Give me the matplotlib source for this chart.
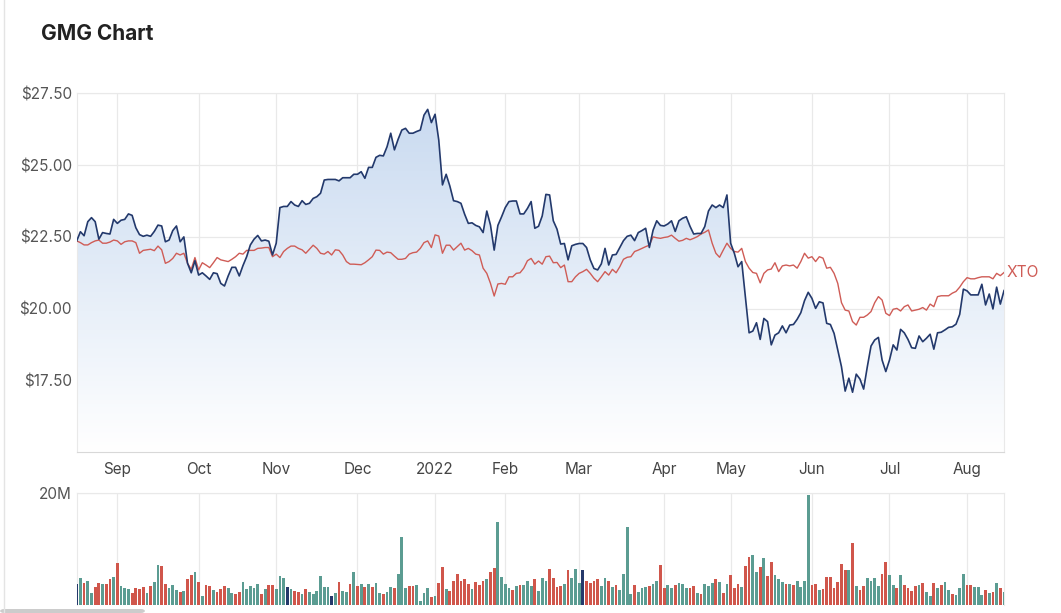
import numpy as np
import pandas as pd
import matplotlib.pyplot as plt
from matplotlib.patches import FancyBboxPatch

plt.rcParams["font.family"] = ["Inter", "DejaVu Sans"]

# ASX trading calendar covered by the chart
start_date = "2021-08-17"
end_date = "2022-08-15"
holidays = ["2021-12-27", "2021-12-28", "2022-01-03", "2022-01-26",
            "2022-04-15", "2022-04-18", "2022-04-25", "2022-06-13"]
month_labels = ["Sep", "Oct", "Nov", "Dec", "2022", "Feb", "Mar", "Apr",
                "May", "Jun", "Jul", "Aug"]

gmg = [
    22.36, 22.68, 22.54, 23.03, 23.17, 23.03, 22.42, 22.65, 22.62, 22.60,
    23.11, 22.97, 23.08, 23.11, 23.30, 23.25, 22.82, 22.58, 22.52, 22.56,
    22.52, 22.69, 22.91, 22.88, 22.33, 22.39, 22.72, 22.88, 22.33, 22.50,
    21.58, 21.25, 21.67, 21.17, 21.25, 21.14, 21.02, 21.25, 21.22, 20.88,
    20.79, 21.14, 21.44, 21.44, 21.14, 21.50, 21.81, 22.22, 22.42, 22.55,
    22.36, 22.39, 22.35, 21.87, 22.28, 23.52, 23.56, 23.56, 23.73, 23.61,
    23.56, 23.76, 23.63, 23.67, 23.84, 23.90, 24.02, 24.48, 24.50, 24.50,
    24.50, 24.45, 24.56, 24.56, 24.56, 24.68, 24.68, 24.77, 24.54, 24.92,
    24.92, 25.27, 25.34, 25.32, 25.64, 26.11, 25.53, 25.90, 26.22, 26.28,
    26.11, 26.11, 26.17, 26.22, 26.74, 26.94, 26.48, 26.77, 25.87, 24.31,
    24.68, 24.27, 23.76, 23.73, 23.67, 23.29, 22.97, 22.99, 22.90, 22.85,
    22.65, 23.40, 22.91, 22.04, 22.90, 23.20, 23.52, 23.73, 23.75, 23.75,
    23.30, 23.30, 23.49, 23.73, 22.80, 22.87, 23.23, 23.98, 23.96, 23.06,
    22.77, 22.25, 22.27, 21.70, 22.19, 22.24, 22.27, 22.27, 22.13, 21.70,
    21.40, 21.35, 21.56, 22.10, 21.52, 21.87, 21.89, 22.13, 22.37, 22.52,
    22.56, 22.37, 22.65, 22.72, 22.80, 22.13, 22.73, 23.06, 22.90, 22.88,
    22.95, 23.06, 22.69, 23.06, 23.15, 23.20, 22.87, 22.60, 22.62, 22.62,
    22.86, 23.40, 23.61, 23.52, 23.61, 23.52, 23.96, 22.28, 21.93, 21.46,
    21.64, 20.40, 19.16, 19.22, 19.51, 18.93, 19.66, 19.55, 18.74, 19.08,
    19.16, 19.40, 19.16, 19.43, 19.45, 19.63, 19.86, 20.28, 20.57, 20.36,
    20.01, 20.24, 20.20, 19.49, 19.45, 19.14, 18.56, 17.98, 17.13, 17.58,
    17.09, 17.72, 17.55, 17.20, 17.98, 18.70, 18.91, 19.00, 18.21, 17.81,
    18.21, 18.74, 18.56, 19.28, 19.16, 18.93, 18.64, 18.62, 19.05, 18.85,
    18.97, 19.11, 18.59, 19.16, 19.18, 19.26, 19.35, 19.37, 19.46, 19.80,
    20.68, 20.62, 20.48, 20.48, 20.48, 20.85, 20.13, 20.51, 19.99, 20.75,
    20.16, 20.63,
]

xto = [
    22.36, 22.30, 22.22, 22.22, 22.30, 22.36, 22.39, 22.28, 22.28, 22.32,
    22.39, 22.36, 22.24, 22.33, 22.36, 22.36, 22.30, 21.93, 22.03, 22.05,
    22.07, 22.02, 22.18, 22.05, 21.58, 21.64, 21.75, 21.93, 21.87, 21.93,
    21.58, 21.37, 21.78, 21.35, 21.60, 21.52, 21.43, 21.60, 21.78, 21.70,
    21.67, 21.64, 21.72, 21.81, 21.93, 21.90, 22.03, 22.03, 22.03, 22.10,
    22.11, 22.13, 22.13, 21.81, 21.90, 21.78, 21.99, 22.10, 22.18, 22.18,
    22.10, 22.05, 21.93, 22.07, 22.21, 22.10, 21.93, 21.90, 21.99, 21.87,
    22.05, 22.03, 21.87, 21.64, 21.55, 21.55, 21.54, 21.53, 21.60, 21.70,
    21.81, 22.04, 22.03, 21.90, 21.97, 21.95, 21.83, 21.72, 21.72, 21.75,
    21.90, 21.95, 21.97, 22.10, 22.30, 22.36, 22.13, 22.57, 22.53, 21.93,
    22.21, 22.21, 22.04, 22.16, 22.28, 22.04, 22.10, 22.02, 21.90, 21.87,
    21.41, 21.23, 20.88, 20.44, 20.86, 20.88, 20.85, 21.11, 21.11, 21.23,
    21.25, 21.41, 21.67, 21.75, 21.55, 21.66, 21.55, 21.81, 21.83, 21.60,
    21.61, 21.43, 21.52, 20.94, 20.94, 21.11, 21.23, 21.29, 21.37, 21.23,
    21.06, 20.94, 21.11, 21.29, 21.17, 21.37, 21.25, 21.46, 21.72, 21.79,
    21.81, 21.99, 22.04, 22.10, 22.16, 22.21, 22.50, 22.47, 22.45, 22.48,
    22.50, 22.56, 22.45, 22.35, 22.38, 22.45, 22.40, 22.45, 22.51, 22.60,
    22.66, 22.74, 22.28, 21.93, 21.79, 22.04, 22.28, 22.10, 21.99, 21.97,
    22.10, 21.64, 21.41, 21.26, 21.23, 20.90, 21.23, 21.35, 21.38, 21.60,
    21.29, 21.49, 21.52, 21.49, 21.52, 21.41, 21.64, 21.93, 21.76, 21.81,
    21.64, 21.81, 21.76, 21.41, 21.44, 21.23, 20.88, 20.21, 19.95, 19.92,
    19.55, 19.43, 19.70, 19.70, 19.78, 19.90, 20.21, 20.42, 20.30, 19.84,
    19.76, 19.98, 20.01, 19.92, 20.07, 20.13, 19.92, 19.95, 19.98, 20.04,
    19.95, 20.16, 20.07, 20.42, 20.45, 20.45, 20.45, 20.54, 20.60, 20.75,
    20.94, 21.08, 21.04, 21.04, 21.08, 21.11, 21.11, 21.11, 21.04, 21.23,
    21.15, 21.26,
]

# daily volume, millions of shares
volume = [
    3.75, 4.76, 3.87, 4.35, 2.08, 3.15, 3.87, 3.75, 3.75, 4.58,
    4.94, 7.56, 3.39, 2.98, 2.80, 2.08, 2.98, 2.80, 3.15, 2.08,
    3.39, 4.17, 7.14, 6.96, 3.75, 2.98, 3.57, 2.68, 2.38, 2.56,
    4.58, 5.36, 5.95, 4.17, 1.67, 3.57, 3.39, 2.68, 2.38, 2.80,
    3.39, 2.98, 2.20, 1.96, 2.32, 4.17, 2.80, 3.39, 2.98, 3.75,
    1.96, 2.80, 3.57, 3.57, 2.80, 5.18, 4.76, 3.15, 2.80, 2.56,
    2.32, 1.96, 2.80, 2.38, 1.96, 2.56, 5.18, 3.15, 3.15, 1.67,
    2.08, 4.17, 2.56, 2.38, 3.75, 5.95, 3.39, 3.75, 3.27, 3.75,
    3.27, 3.87, 2.08, 1.96, 2.26, 3.15, 2.98, 5.54, 12.20, 2.98,
    3.45, 3.39, 3.50, 0.71, 2.08, 2.98, 1.50, 1.67, 3.87, 6.73,
    2.80, 2.50, 4.35, 5.54, 4.35, 4.58, 3.75, 2.80, 4.17, 3.57,
    4.35, 4.58, 5.95, 6.55, 14.80, 4.94, 3.75, 2.98, 2.68, 3.39,
    3.57, 3.57, 4.35, 3.39, 4.58, 2.50, 4.76, 4.35, 6.37, 4.76,
    3.15, 3.39, 3.75, 6.25, 4.76, 6.37, 3.87, 6.25, 4.35, 3.87,
    4.35, 4.58, 3.39, 4.76, 4.35, 3.15, 3.57, 2.68, 5.54, 13.90,
    1.90, 3.57, 2.38, 2.98, 3.15, 3.39, 3.75, 4.35, 7.14, 2.98,
    3.57, 2.98, 3.57, 3.87, 3.75, 2.98, 2.98, 3.39, 2.08, 1.90,
    3.75, 3.39, 3.87, 4.58, 4.17, 2.08, 3.75, 5.36, 2.98, 3.75,
    3.15, 6.96, 8.51, 8.93, 5.95, 6.73, 8.33, 5.18, 7.74, 5.36,
    4.58, 4.17, 3.75, 3.75, 3.51, 4.35, 3.15, 4.35, 19.64, 3.51,
    3.75, 2.68, 2.80, 4.94, 4.94, 2.98, 4.17, 7.32, 6.25, 6.25,
    11.01, 3.39, 2.68, 3.39, 4.76, 4.35, 4.76, 3.39, 5.54, 7.74,
    5.36, 3.57, 2.98, 5.36, 3.57, 2.98, 2.56, 3.39, 3.57, 3.87,
    2.32, 1.61, 3.87, 2.98, 3.57, 4.17, 2.68, 1.90, 1.73, 2.98,
    5.54, 3.57, 3.57, 3.15, 3.15, 1.73, 2.68, 2.20, 2.32, 3.87,
    2.98, 2.32,
]

# u = up day, d = down day, n = unchanged (10 days per chunk)
direction = list(
    "nuduuddudd" "uduuuddddu" "duudduuudu" "ddududdudd" "duudduuuuu"
    "dudduuunud" "duduuuuuun" "uduudududu" "duuduuduuu" "dduuuududd"
    "uddddddudd" "dudduuuudu" "duuuduuudd" "dduduuundd" "dduududuuu"
    "uduuuduudd" "uuduuuddud" "uuudududdd" "udduududdu" "uududuuuud"
    "dudddddddu" "dudduuuudd" "uududdddud" "uududuuduu" "udduuududu"
    "du"
)

colors = {"u": "#5b9c92", "d": "#d0564b", "n": "#25396b"}

dates = pd.bdate_range(start_date, end_date, freq="C", holidays=holidays)
x = np.arange(len(dates))
month_idx = [int(np.argmax(dates >= pd.Timestamp(f"{y}-{m:02d}-01")))
             for y, m in [(2021, 9), (2021, 10), (2021, 11), (2021, 12),
                          (2022, 1), (2022, 2), (2022, 3), (2022, 4),
                          (2022, 5), (2022, 6), (2022, 7), (2022, 8)]]

fig = plt.figure(figsize=(10.61, 6.13), dpi=100)
ax = fig.add_axes([0.0723, 0.2622, 0.8740, 0.5856])
axv = fig.add_axes([0.0723, 0.0130, 0.8740, 0.1832])

grid_c = "#e9e9e9"

# gradient area under GMG
fill = ax.fill_between(x, gmg, 15, color="none", lw=0)
grad = np.linspace(0, 1, 256)[:, None]
top_c = np.array([0.78, 0.85, 0.94])
img = top_c[None, None, :] * (1 - grad[..., None]) + np.ones(3) * grad[..., None]
im = ax.imshow(img, extent=[0, 251, 15, 27.5], aspect="auto", origin="upper",
               zorder=1)
im.set_clip_path(fill.get_paths()[0], transform=ax.transData)

ax.plot(x, xto, color="#cf5c56", lw=1.0, zorder=3)
ax.plot(x, gmg, color="#23396c", lw=1.2, zorder=4)
ax.annotate("XTO", xy=(x[-1], xto[-1]), xytext=(2, 0), textcoords="offset points",
            va="center", ha="left", color="#cf5c56", fontsize=11.2,
            annotation_clip=False)

ax.set_xlim(0, 251)
ax.set_ylim(15, 27.5)
ax.set_yticks([17.5, 20, 22.5, 25, 27.5])
ax.set_yticklabels([f"${v:.2f}" for v in [17.5, 20, 22.5, 25, 27.5]])
ax.set_xticks(month_idx)
ax.set_xticklabels(month_labels)
ax.grid(True, color=grid_c, lw=0.9, zorder=0)
ax.set_axisbelow(True)
ax.tick_params(length=0, labelsize=11, colors="#555555", pad=3.5)
ax.tick_params(axis="x", colors="#444444", pad=7)
for s in ["left", "right", "top"]:
    ax.spines[s].set_color(grid_c)
ax.spines["bottom"].set_color("#d8d8d8")

bar_c = [colors[d] for d in direction]
axv.bar(x, volume, width=0.75, color=bar_c, lw=0, zorder=3)
axv.set_xlim(0, 251)
axv.set_ylim(0, 20)
axv.set_yticks([20])
axv.set_yticklabels(["20M"])
axv.set_xticks(month_idx)
axv.set_xticklabels([])
axv.grid(True, color=grid_c, lw=0.9, zorder=0)
axv.tick_params(length=0, labelsize=11, colors="#555555", pad=3.5)
for s in ["left", "right", "top"]:
    axv.spines[s].set_color(grid_c)
axv.spines["bottom"].set_visible(False)

fig.text(41 / 1061, 1 - 34 / 613, "GMG Chart", fontsize=15, fontweight="bold",
         color="#222222", va="center", ha="left")

# page edge and scrollbar remnants
fig.add_artist(plt.Line2D([3.5 / 1061, 3.5 / 1061], [0, 1], color="#e4e4e4", lw=1))
fig.add_artist(FancyBboxPatch((0, 0), 145 / 1061, 4 / 613, boxstyle="round,pad=0,rounding_size=0.004",
                              transform=fig.transFigure, color="#cccccc", lw=0))

fig.savefig("out.png", dpi=100)
